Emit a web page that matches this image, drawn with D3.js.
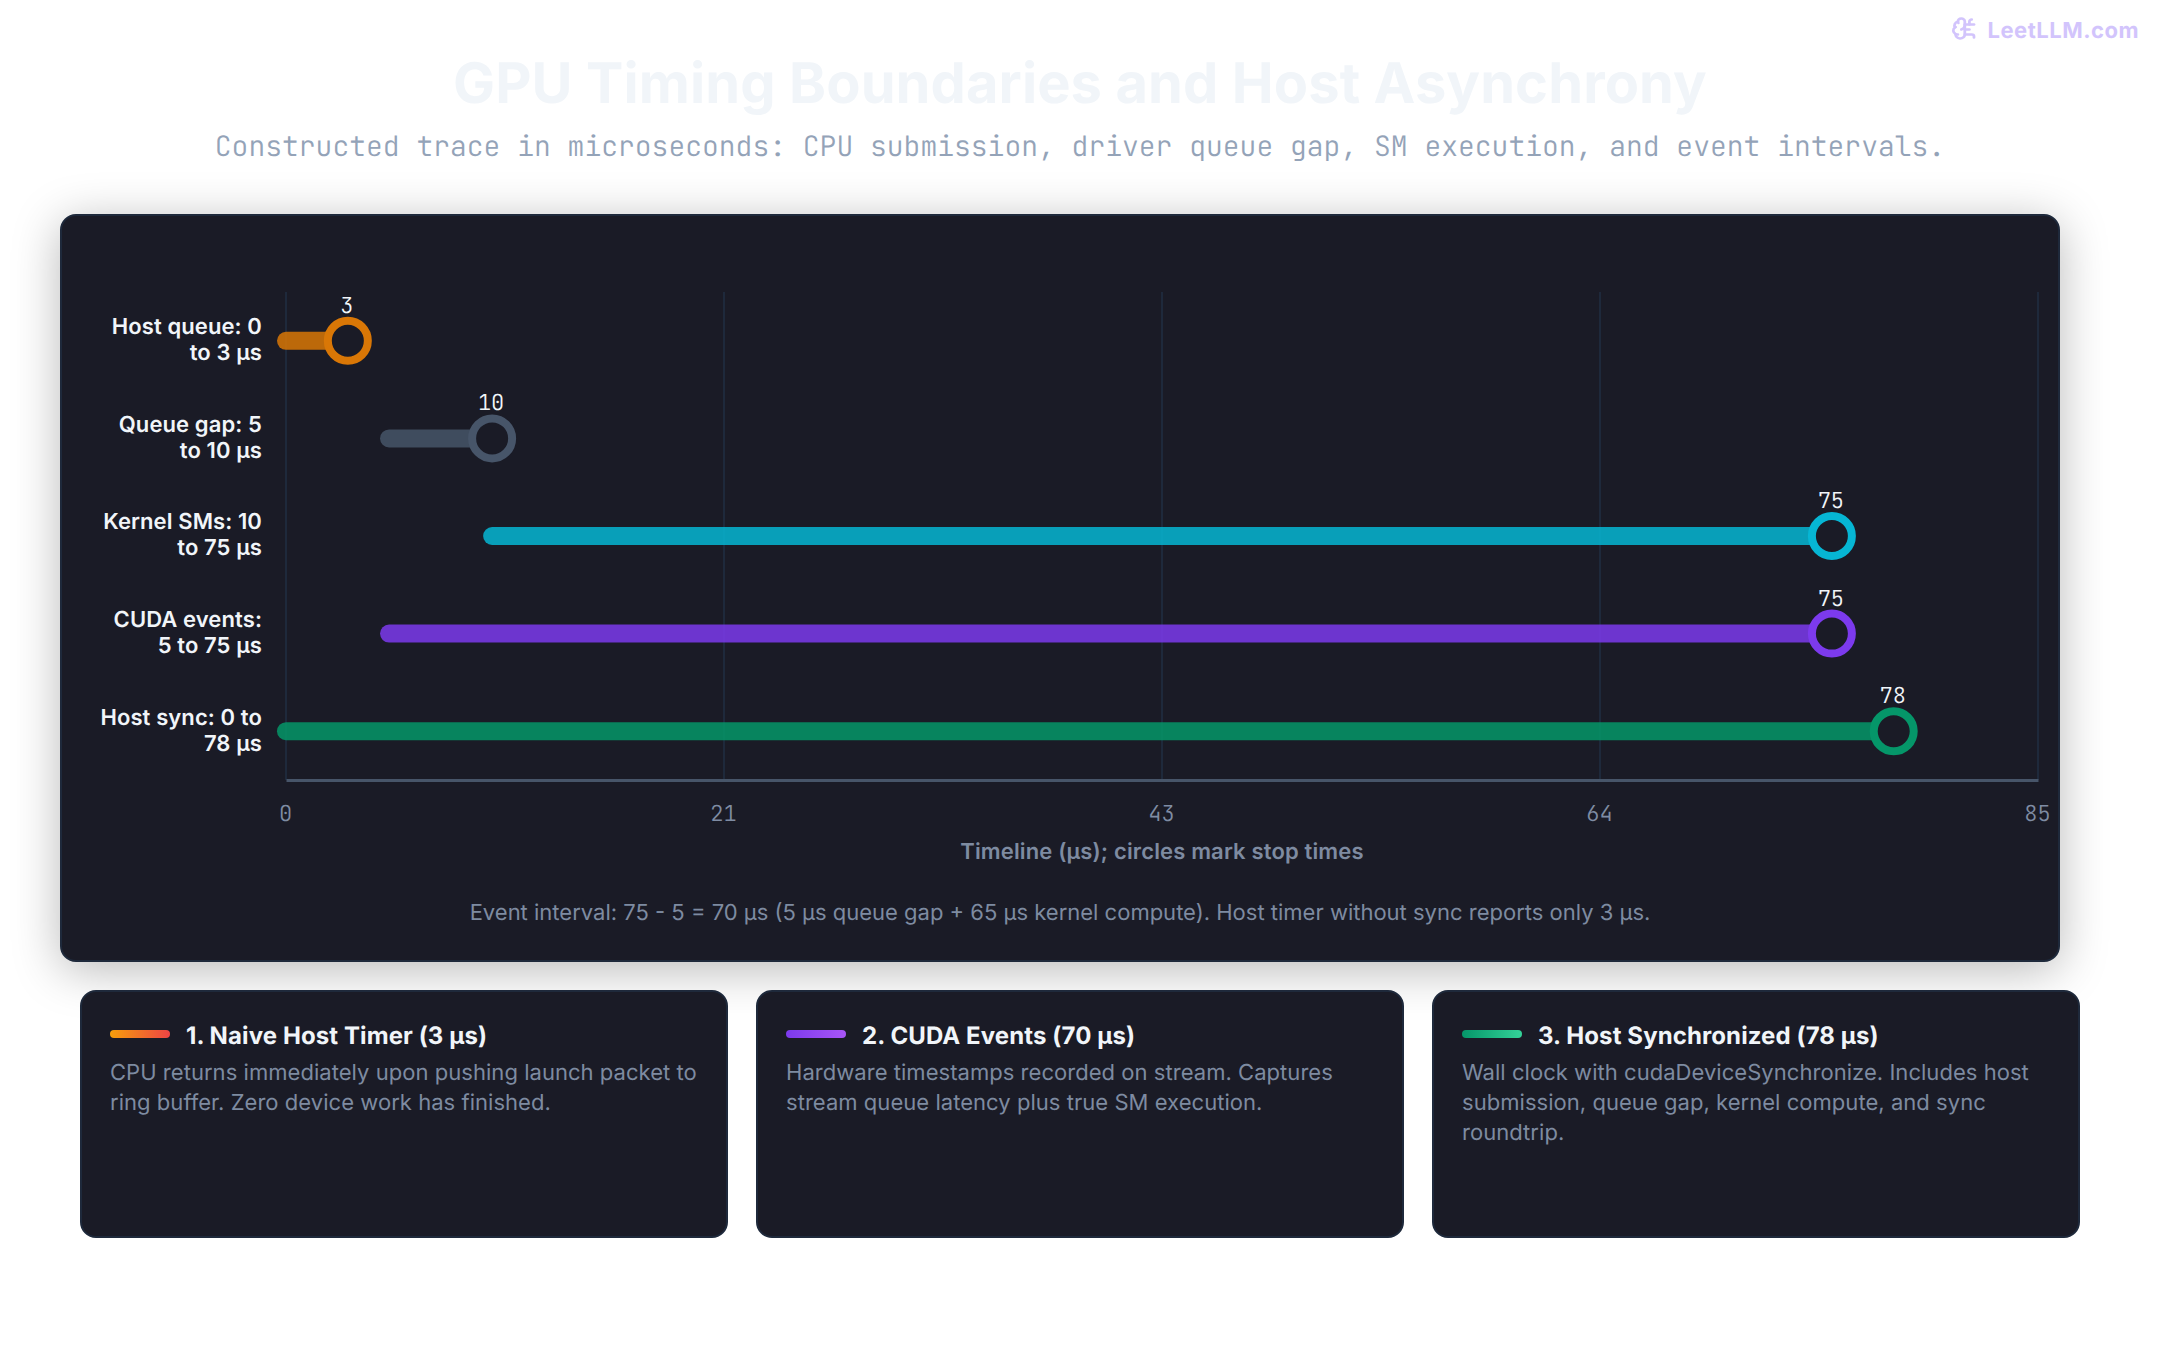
<!DOCTYPE html>
<html><head><meta charset="utf-8">
<style>
html,body{margin:0;padding:0;background:#fff;width:2160px;height:1360px;overflow:hidden}
body{position:relative;font-family:Inter,sans-serif;text-rendering:geometricPrecision}
svg{position:absolute;left:0;top:0}
.panel{position:absolute;left:60px;top:214px;width:1996px;height:744px;background:#1a1b26;border:2px solid #1e293b;border-radius:16px;box-shadow:0 8px 48px rgba(0,0,0,.28)}
.card{position:absolute;top:990px;width:644px;height:244px;background:#1a1b26;border:2px solid #1e293b;border-radius:16px}
.swatch{position:absolute;left:28px;top:38px;width:60px;height:8px;border-radius:4px}
.card h3{position:absolute;left:104px;top:28px;margin:0;font:700 12px/16px Inter,sans-serif;letter-spacing:.05px;color:#f1f5f9;white-space:nowrap;transform:scale(2);transform-origin:0 0}
.card p{position:absolute;left:28px;top:66px;width:296px;margin:0;font:400 11px/15px Inter,sans-serif;letter-spacing:.02px;color:#7e8ba1;transform:scale(2);transform-origin:0 0}
.head{position:absolute;left:0;width:1080px;text-align:center;margin:0;transform:scale(2);transform-origin:0 0;white-space:nowrap}
</style>
<script src="https://cdnjs.cloudflare.com/ajax/libs/d3/7.8.5/d3.min.js"></script>
</head><body>
<div class="panel"></div>
<script>
const categories = ["Host queue: 0 to 3 µs","Queue gap: 5 to 10 µs","Kernel SMs: 10 to 75 µs","CUDA events: 5 to 75 µs","Host sync: 0 to 78 µs"];
const starts = [0,5,10,5,0];
const stops = [3,10,75,75,78];
const axisMax = 85;
const tickValues = [0,21.25,42.5,63.75,85];
const cardTitles = ["1. Naive Host Timer (3 µs)","2. CUDA Events (70 µs)","3. Host Synchronized (78 µs)"];
const cardBodies = [
 "CPU returns immediately upon pushing launch packet to ring buffer. Zero device work has finished.",
 "Hardware timestamps recorded on stream. Captures stream queue latency plus true SM execution.",
 "Wall clock with cudaDeviceSynchronize. Includes host submission, queue gap, kernel compute, and sync roundtrip."
];
const titleText = "GPU Timing Boundaries and Host Asynchrony";
const subtitleText = "Constructed trace in microseconds: CPU submission, driver queue gap, SM execution, and event intervals.";
const axisTitle = "Timeline (µs); circles mark stop times";
const noteText = "Event interval: 75 - 5 = 70 µs (5 µs queue gap + 65 µs kernel compute). Host timer without sync reports only 3 µs.";
const brandText = "LeetLLM.com";

const mono = "'JetBrains Mono','DejaVu Sans Mono',monospace";
const colorScale = d3.scaleOrdinal().domain(categories).range(["#d97706","#475569","#06b6d4","#7c3aed","#059669"]);
const swatchFills = ["linear-gradient(90deg,#f59e0b,#ef4444)","linear-gradient(90deg,#7c3aed,#a855f7)","linear-gradient(90deg,#059669,#34d399)"];

// header
d3.select("body").append("div").attr("class","head").style("top","47px")
  .style("font","700 28px/36px Inter,sans-serif").style("letter-spacing",".05px").style("color","#f1f5f9").text(titleText);
d3.select("body").append("div").attr("class","head").style("top","130px")
  .style("font","300 14px/18px "+mono).style("color","#94a3b8").text(subtitleText);

const svg = d3.select("body").append("svg").attr("width",2160).attr("height",1360);
const x = d3.scaleLinear().domain([0,axisMax]).range([286,2038]);
const y = d3.scaleBand().domain(categories).range([292,780]);

// brand
const brand = svg.append("g").attr("opacity",.5);
const icon = brand.append("g").attr("transform","translate(1951,16.5) scale(1.15,1)").attr("fill","none").attr("stroke","#a78bfa").attr("stroke-width",2.4).attr("stroke-linecap","round").attr("stroke-linejoin","round");
["M12 5a3 3 0 1 0-5.997.125 4 4 0 0 0-2.526 5.77 4 4 0 0 0 .556 6.588A4 4 0 1 0 12 18Z","M9 13a4.5 4.5 0 0 0 3-4","M6.003 5.125A3 3 0 0 0 6.401 6.5","M3.477 10.896a4 4 0 0 1 .585-.396","M6 18a4 4 0 0 1-1.967-.516","M12 13h4","M12 18h6a2 2 0 0 1 2 2v1","M12 8h8","M16 8V5a2 2 0 0 1 2-2"]
  .forEach(d=>icon.append("path").attr("d",d));
brand.append("text").attr("x",2139).attr("y",38).attr("text-anchor","end").attr("font-family","Inter,sans-serif")
  .attr("font-weight",700).attr("font-size",22).attr("letter-spacing",.5).attr("fill","#a78bfa").text(brandText);

// grid + axis
const xAxis = d3.axisBottom(x).tickValues(tickValues).tickSize(0).tickPadding(0).tickFormat(d=>Math.round(d));
const gridG = svg.append("g");
gridG.selectAll("line").data(tickValues).join("line")
  .attr("x1",d=>x(d)).attr("x2",d=>x(d)).attr("y1",292).attr("y2",780).attr("stroke","#1e293b").attr("stroke-width",2);
const ax = svg.append("g").attr("transform","translate(0,780)").call(xAxis);
ax.select(".domain").attr("stroke","#475569").attr("stroke-width",3);
ax.selectAll("text").attr("y",41).attr("dy",0).attr("dx",-1).attr("font-family",mono).attr("font-weight",300).attr("font-size",22).attr("fill","#7f8ca3");

svg.append("text").attr("x",1162).attr("y",859).attr("text-anchor","middle").attr("font-family","Inter,sans-serif")
  .attr("font-weight",600).attr("font-size",22).attr("letter-spacing",.15).attr("fill","#7e8ba1").text(axisTitle);
svg.append("text").attr("x",1060).attr("y",920).attr("text-anchor","middle").attr("font-family","Inter,sans-serif")
  .attr("font-size",22).attr("fill","#7e8ba1").text(noteText);

// rows
const rows = categories.map((c,i)=>({c,start:starts[i],stop:stops[i]}));
const rowG = svg.append("g").selectAll("g").data(rows).join("g");
const cy = d=>y(d.c)+y.bandwidth()/2;
rowG.append("line").attr("x1",d=>x(d.start)).attr("x2",d=>x(d.stop)).attr("y1",cy).attr("y2",cy)
  .attr("stroke",d=>colorScale(d.c)).attr("stroke-width",18).attr("stroke-linecap","round").attr("stroke-opacity",.85);
rowG.append("circle").attr("cx",d=>x(d.stop)).attr("cy",cy).attr("r",20)
  .attr("fill","#1a1b26").attr("stroke",d=>colorScale(d.c)).attr("stroke-width",8);
rowG.append("text").attr("x",d=>x(d.stop)-1).attr("y",d=>cy(d)-28).attr("text-anchor","middle")
  .attr("font-family",mono).attr("font-weight",300).attr("font-size",22).attr("fill","#f1f5f9").text(d=>d.stop);

// wrapped category labels
rowG.each(function(d){
  const g=d3.select(this);
  const t=g.append("text").attr("text-anchor","end").attr("font-family","Inter,sans-serif").attr("font-weight",600)
    .attr("font-size",22).attr("letter-spacing",.1).attr("fill","#f1f5f9");
  const words=d.c.split(" "); let lines=[],cur="";
  words.forEach(w=>{
    const test=cur?cur+" "+w:w;
    t.text(test);
    if(t.node().getComputedTextLength()>165&&cur){lines.push(cur);cur=w}else cur=test;
  });
  lines.push(cur);
  t.text(null);
  lines.forEach((l,i)=>t.append("tspan").attr("x",262).attr("y",cy(d)-6.6+i*26).text(l));
});

// cards
d3.select("body").selectAll("div.card").data(cardTitles).join("div").attr("class","card")
  .style("left",(d,i)=>(80+i*676)+"px")
  .each(function(d,i){
    const c=d3.select(this);
    c.append("div").attr("class","swatch").style("background",swatchFills[i]);
    c.append("h3").text(d);
    c.append("p").text(cardBodies[i]);
  });
</script>
</body></html>
